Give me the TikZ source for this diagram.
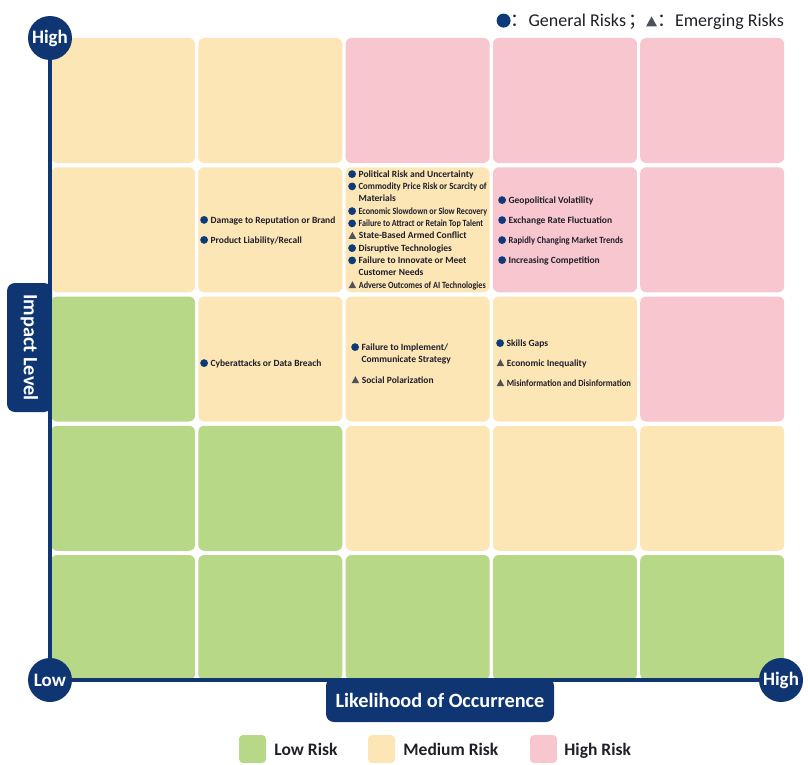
\documentclass[tikz,border=0pt]{standalone}
\usepackage{fontspec}
\setmainfont{Carlito}
\newfontfamily\cjk{Noto Sans CJK SC}
\usepackage{graphicx}
\usepackage{xcolor}
\usepackage{tikz}
\usetikzlibrary{positioning,shapes}

\definecolor{axisblue}{HTML}{0F3673}
\definecolor{riskblue}{HTML}{0D3A78}
\definecolor{riskgray}{HTML}{4D5359}
\definecolor{itemtext}{HTML}{1F1F2B}
\definecolor{lowrisk}{HTML}{B7D886}
\definecolor{medrisk}{HTML}{FDE6B6}
\definecolor{highrisk}{HTML}{F7C6CE}

% marks for general / emerging risks
\newcommand{\gdot}[2]{\tikz[baseline=-#2]\fill[riskblue] (0,0) circle (#1);}
\newcommand{\etri}[2]{\tikz[baseline=0pt]\fill[riskgray] (0,0) -- (#1,0) -- (0.5*#1,#2) -- cycle;}
\newcommand{\gi}{\gdot{3.9pt}{3.1pt}\hspace{2.6pt}}
\newcommand{\ei}{\hspace{0.4pt}\etri{7.6pt}{7pt}\hspace{2.6pt}}
\newcommand{\cont}{\hspace*{10.4pt}}
\newcommand{\cond}[2]{\scalebox{#1}[1]{#2}}

\tikzset{
  cell/.style={rectangle, rounded corners=6pt, minimum width=144pt, minimum height=125pt, inner sep=0pt},
  item/.style={anchor=base west, inner sep=0pt, align=left, text=itemtext,
    font=\bfseries\fontsize{9.5}{12.3}\selectfont},
  axcirc/.style={circle, fill=axisblue, minimum size=44pt, inner sep=0pt, text=white,
    font=\bfseries\fontsize{19}{19}\selectfont},
  axlabel/.style={rectangle, fill=axisblue, rounded corners=8pt, inner sep=0pt, text=white,
    font=\bfseries\fontsize{20.3}{20.3}\selectfont},
  axisline/.style={axisblue, line width=4pt},
  swatch/.style={rectangle, rounded corners=4pt, minimum width=27pt, minimum height=28pt, inner sep=0pt},
  keytext/.style={inner sep=0pt, text depth=0pt, text=itemtext, font=\bfseries\fontsize{17.5}{17.5}\selectfont}
}

\begin{document}
\begin{tikzpicture}[x=1pt,y=-1pt]
  \useasboundingbox (0,0) rectangle (808,765);

  % axis labels (behind the grid)
  \node[axlabel, rotate=-90, minimum width=129pt, minimum height=45pt] (ylab) at (29.5,347.5) {Impact Level};
  \node[axlabel, minimum width=228pt, minimum height=44pt] (xlab) at (440,700) {Likelihood of Occurrence};

  % risk matrix, top row first
  \foreach \k [count=\c from 0] in {medrisk,medrisk,highrisk,highrisk,highrisk}
    \node[cell, fill=\k] (c0\c) at (123+147.3*\c,100.5) {};
  \foreach \k [count=\c from 0] in {medrisk,medrisk,medrisk,highrisk,highrisk}
    \node[cell, fill=\k] (c1\c) at (123+147.3*\c,229.75) {};
  \foreach \k [count=\c from 0] in {lowrisk,medrisk,medrisk,medrisk,highrisk}
    \node[cell, fill=\k] (c2\c) at (123+147.3*\c,359) {};
  \foreach \k [count=\c from 0] in {lowrisk,lowrisk,medrisk,medrisk,medrisk}
    \node[cell, fill=\k] (c3\c) at (123+147.3*\c,488.25) {};
  \foreach \k [count=\c from 0] in {lowrisk,lowrisk,lowrisk,lowrisk,lowrisk}
    \node[cell, fill=\k] (c4\c) at (123+147.3*\c,617.5) {};

  % axes
  \node[axcirc] (yhigh) at (50,38) {High};
  \node[axcirc] (orig) at (50,680) {Low};
  \node[axcirc] (xhigh) at (781,680) {High};
  \draw[axisline] (yhigh) -- (orig);
  \draw[axisline] (orig) -- (xhigh);

  % row 2 (two-line items sit on the baseline of their last line)
  \node[item] (dmg) at (200,223) {\gi Damage to Reputation or Brand};
  \node[item] (prod) at (200,243) {\gi Product Liability/Recall};

  \node[item] (pol) at (348,177.2) {\gi Political Risk and Uncertainty};
  \node[item] (comm) at (348,201.8) {\gi\cond{0.92}{Commodity Price Risk or Scarcity of}\\\cont Materials};
  \node[item] (econ) at (348,214.2) {\gi\cond{0.85}{Economic Slowdown or Slow Recovery}};
  \node[item] (talent) at (348,226.5) {\gi\cond{0.85}{Failure to Attract or Retain Top Talent}};
  \node[item] (armed) at (348,238.8) {\ei State-Based Armed Conflict};
  \node[item] (disr) at (348,251.2) {\gi Disruptive Technologies};
  \node[item] (innov) at (348,275.8) {\gi Failure to Innovate or Meet\\\cont Customer Needs};
  \node[item] (aiout) at (348,288.2) {\ei\cond{0.86}{Adverse Outcomes of AI Technologies}};

  \node[item] (geo) at (498,203.2) {\gi Geopolitical Volatility};
  \node[item] (fx) at (498,223.2) {\gi Exchange Rate Fluctuation};
  \node[item] (trend) at (498,243.2) {\gi\cond{0.9}{Rapidly Changing Market Trends}};
  \node[item] (comp) at (498,263.2) {\gi Increasing Competition};

  % row 3
  \node[item] (cyber) at (200,366.2) {\gi Cyberattacks or Data Breach};

  \node[item] (strat) at (351,362.5) {\gi Failure to Implement/\\\cont Communicate Strategy};
  \node[item] (polar) at (351,383.2) {\ei Social Polarization};

  \node[item] (skills) at (496,346.2) {\gi Skills Gaps};
  \node[item] (ineq) at (496,366.2) {\ei Economic Inequality};
  \node[item] (misinfo) at (496,386.2) {\ei\cond{0.89}{Misinformation and Disinformation}};

  % keys
  \node[anchor=east, inner sep=0pt, text depth=0pt, text=itemtext, font=\fontsize{18}{18}\selectfont] (riskkey) at (784,20)
    {\gdot{7pt}{5.8pt}{\cjk ：}General Risks\hspace{2pt}{\cjk ；}\etri{11pt}{10pt}{\cjk ：}Emerging Risks};

  \node[swatch, fill=lowrisk] (lowkey) at (252.5,749) {};
  \node[keytext, right=8pt of lowkey] (lowtxt) {Low Risk};
  \node[swatch, fill=medrisk] (medkey) at (381.5,749) {};
  \node[keytext, right=8pt of medkey] (medtxt) {Medium Risk};
  \node[swatch, fill=highrisk] (highkey) at (543.5,749) {};
  \node[keytext, right=7pt of highkey] (hightxt) {High Risk};
\end{tikzpicture}
\end{document}
